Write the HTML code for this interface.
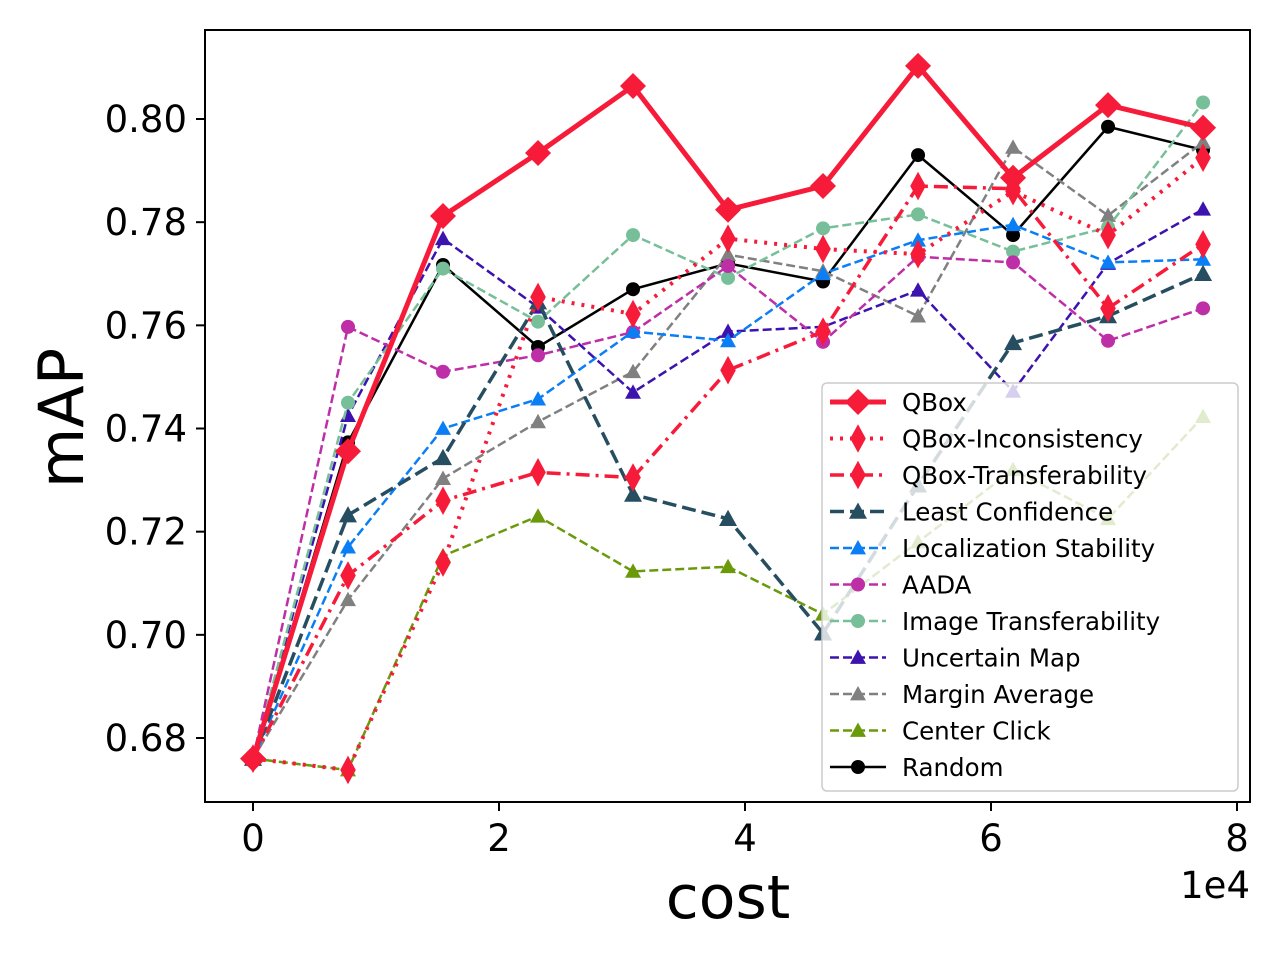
<!DOCTYPE html>
<html><head><meta charset="utf-8"><style>
body{margin:0;background:#fff}
svg text{font-family:"DejaVu Sans","Liberation Sans",sans-serif}
</style></head><body>
<svg id="chart" width="1280" height="960" xmlns="http://www.w3.org/2000/svg">
<rect x="0" y="0" width="1280" height="960" fill="#fff"/>
<g id="series"></g>
<g id="axes"></g>
<g id="legend"></g>
</svg>
<script>
const xValues=[0,0.7724,1.5448,2.3172,3.0896,3.862,4.6344,5.4068,6.1792,6.9516,7.724];
const xTicks=[0,2,4,6,8];
const yTicks=[0.68,0.70,0.72,0.74,0.76,0.78,0.80];
const seriesNames=["QBox","QBox-Inconsistency","QBox-Transferability","Least Confidence","Localization  Stability","AADA","Image Transferability","Uncertain Map","Margin Average","Center Click","Random"];
const qbox=[0.676,0.7356,0.7812,0.7934,0.8064,0.7824,0.787,0.8103,0.7886,0.8027,0.7983];
const qboxInconsistency=[0.676,0.6738,0.714,0.7655,0.7622,0.7768,0.7748,0.7738,0.786,0.7775,0.7925];
const qboxTransferability=[0.676,0.7115,0.726,0.7315,0.7305,0.7513,0.7588,0.787,0.7865,0.7633,0.7757];
const leastConfidence=[0.676,0.7232,0.7343,0.7645,0.7272,0.7225,0.7003,0.729,0.7566,0.7618,0.770];
const localizationStability=[0.676,0.717,0.740,0.7457,0.7588,0.757,0.770,0.7765,0.7795,0.7722,0.7728];
const aada=[0.676,0.7597,0.751,0.7542,0.7587,0.7715,0.7568,0.7733,0.7722,0.757,0.7633];
const imageTransferability=[0.676,0.745,0.771,0.7607,0.7775,0.7692,0.7788,0.7815,0.7743,0.779,0.8032];
const uncertainMap=[0.676,0.7425,0.7768,0.7635,0.747,0.7588,0.7597,0.7668,0.7472,0.772,0.7825];
const marginAverage=[0.676,0.7068,0.7303,0.7413,0.751,0.7737,0.7705,0.7618,0.7945,0.7813,0.7955];
const centerClick=[0.676,0.6738,0.7153,0.723,0.7123,0.7132,0.704,0.718,0.732,0.7225,0.7423];
const random=[0.676,0.7373,0.7717,0.7558,0.767,0.772,0.7685,0.793,0.7775,0.7985,0.794];

const NS="http://www.w3.org/2000/svg";
const X=v=>253+v*123;
const Y=v=>738-(v-0.68)*5158.3;
function mk(tag,attrs,parent){const e=document.createElementNS(NS,tag);for(const k in attrs)e.setAttribute(k,attrs[k]);parent.appendChild(e);return e;}

const styles=[
 {data:qbox,color:"#f71b3a",w:5,dash:"",m:"D",ms:13},
 {data:qboxInconsistency,color:"#f71b3a",w:4,dash:"3,7",m:"d",ms:13},
 {data:qboxTransferability,color:"#f71b3a",w:3.5,dash:"14,6,3,6",m:"d",ms:13},
 {data:leastConfidence,color:"#264e60",w:3.5,dash:"14,6",m:"^",ms:9},
 {data:localizationStability,color:"#0a7ff5",w:2.5,dash:"9,4",m:"^",ms:8},
 {data:aada,color:"#be2ea6",w:2.5,dash:"9,4",m:"o",ms:7},
 {data:imageTransferability,color:"#77bf98",w:2.5,dash:"9,4",m:"o",ms:7},
 {data:uncertainMap,color:"#3d13b0",w:2.5,dash:"9,4",m:"^",ms:8},
 {data:marginAverage,color:"#808080",w:2.5,dash:"9,4",m:"^",ms:8},
 {data:centerClick,color:"#6a9a0a",w:2.5,dash:"9,4",m:"^",ms:8},
 {data:random,color:"#000",w:2.5,dash:"",m:"o",ms:7}
];
function marker(g,type,x,y,s,color){
 if(type==="o")return mk("circle",{cx:x,cy:y,r:s,fill:color},g);
 if(type==="^")return mk("polygon",{points:`${x},${y-s} ${x-s},${y+s*0.8} ${x+s},${y+s*0.8}`,fill:color},g);
 if(type==="D")return mk("polygon",{points:`${x},${y-s} ${x+s},${y} ${x},${y+s} ${x-s},${y}`,fill:color},g);
 return mk("polygon",{points:`${x},${y-s*1.1} ${x+s*0.6},${y} ${x},${y+s*1.1} ${x-s*0.6},${y}`,fill:color},g);
}
const sg=document.getElementById("series");
for(let i=styles.length-1;i>=0;i--){
 const st=styles[i];
 const g=mk("g",{},sg);
 
 
 const pts=st.data.map((v,j)=>X(xValues[j])+","+Y(v)).join(" ");
 const pl=mk("polyline",{points:pts,fill:"none",stroke:st.color,"stroke-width":st.w,"stroke-dasharray":st.dash,"stroke-linejoin":"round"},g);
 
 
 st.data.forEach((v,j)=>{const m=marker(g,st.m,X(xValues[j]),Y(v),st.ms,st.color);
  
  });
}
const ax=document.getElementById("axes");
const fr=mk("rect",{x:205,y:30,width:1045,height:772,fill:"none",stroke:"#000","stroke-width":2},ax);


xTicks.forEach(t=>{mk("line",{x1:X(t),x2:X(t),y1:802,y2:811,stroke:"#000","stroke-width":2},ax);
 const tx=mk("text",{x:X(t),y:851,"font-size":37,"text-anchor":"middle"},ax);tx.textContent=t;
 
 });
yTicks.forEach(t=>{mk("line",{x1:196,x2:205,y1:Y(t),y2:Y(t),stroke:"#000","stroke-width":2},ax);
 const tx=mk("text",{x:187,y:Y(t)+13,"font-size":37,"text-anchor":"end"},ax);tx.textContent=t.toFixed(2);
 
 });
let t=mk("text",{x:1250,y:898,"font-size":37,"text-anchor":"end"},ax);t.textContent="1e4";


t=mk("text",{x:728,y:918,"font-size":60,"text-anchor":"middle"},ax);t.textContent="cost";


t=mk("text",{x:0,y:0,"font-size":62,"text-anchor":"middle",transform:"translate(83,418) rotate(-90)"},ax);t.textContent="mAP";



const lg=document.getElementById("legend");


mk("rect",{x:822,y:383,width:416,height:408,rx:5,fill:"rgba(255,255,255,0.8)",stroke:"#ccc","stroke-width":1.5},lg);
styles.forEach((st,i)=>{
 const y=402+i*36.5;
 const g=mk("g",{},lg);
 
 
 mk("line",{x1:830,x2:886,y1:y,y2:y,stroke:st.color,"stroke-width":st.w,"stroke-dasharray":st.dash},g);
 marker(g,st.m,858,y,st.ms,st.color);
 const tx=mk("text",{x:902,y:y+9,"font-size":24.5},g);tx.textContent=seriesNames[i];
});
</script>
</body></html>
